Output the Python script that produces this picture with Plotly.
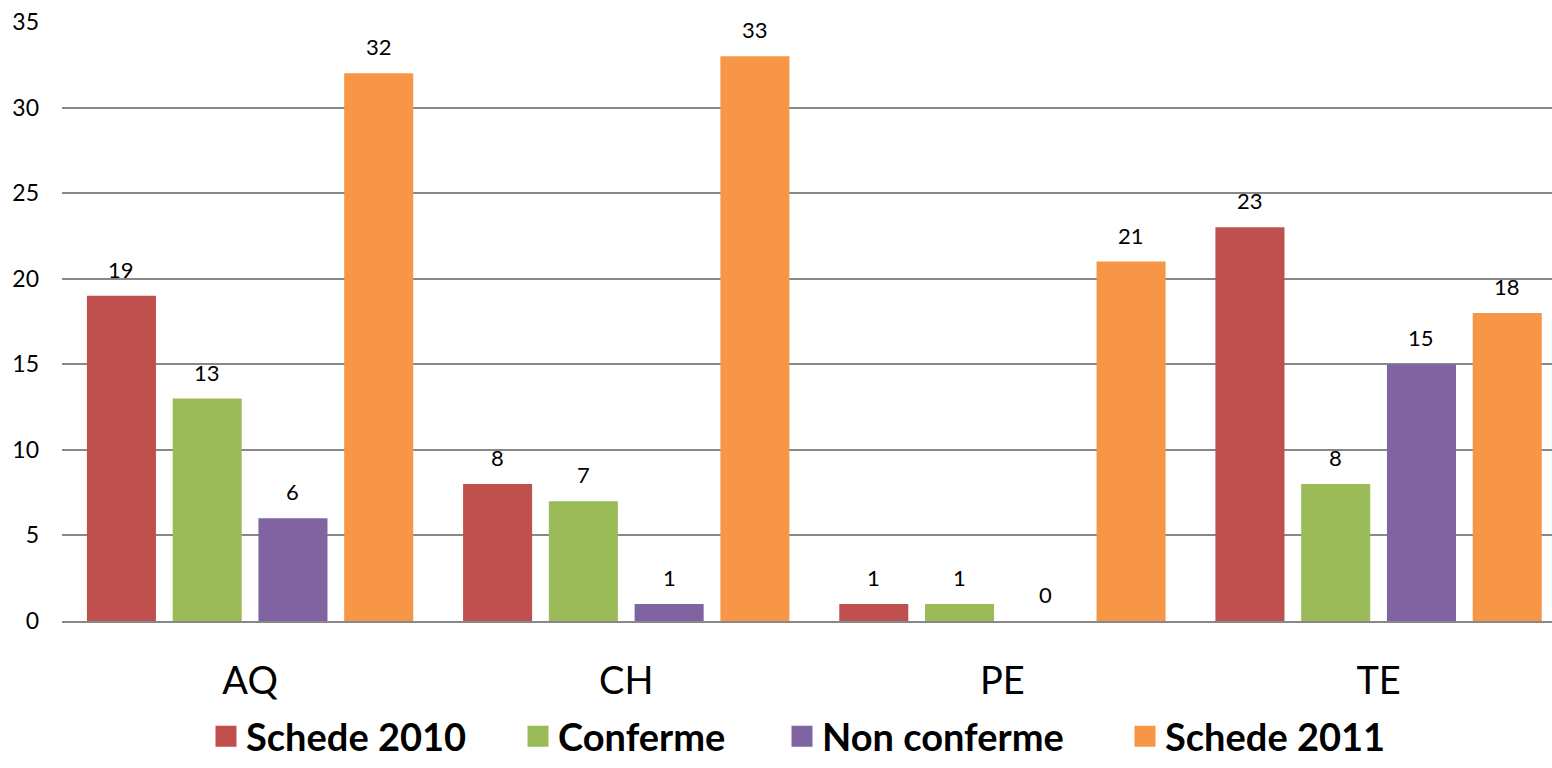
import plotly.graph_objects as go

categories = ["AQ", "CH", "PE", "TE"]
series_names = ["Schede 2010", "Conferme", "Non conferme", "Schede 2011"]
schede_2010 = [19, 8, 1, 23]
conferme = [13, 7, 1, 8]
non_conferme = [6, 1, 0, 15]
schede_2011 = [32, 33, 21, 18]
colors = ["#C0504D", "#9BBB59", "#8064A2", "#F79646"]
y_ticks = [0, 5, 10, 15, 20, 25, 30, 35]

FONT = "Lato, Open Sans, sans-serif"
W, H = 1552, 768
ML, MR, MT, MB = 62, 0, 22, 147
X_RANGE = [-0.5, 3.461]
BARGAP = 0.088
n_series = 4
cat_px = (W - ML - MR) / (X_RANGE[1] - X_RANGE[0])
slot_px = cat_px * (1 - BARGAP) / n_series

# legend symbol centres (px from left) for each series
legend_centres = [226, 538, 802, 1145]
legend_names = ["legend", "legend2", "legend3", "legend4"]

fig = go.Figure()
all_vals = [schede_2010, conferme, non_conferme, schede_2011]
for i, (name, vals, col) in enumerate(zip(series_names, all_vals, colors)):
    fig.add_trace(go.Bar(
        x=categories, y=vals, name=name, showlegend=False,
        marker=dict(color=col, line=dict(width=0)),
    ))
    for c, v in zip(categories, vals):
        fig.add_annotation(x=c, y=v, text=str(v), showarrow=False,
                           xref="x", yref="y", yanchor="bottom",
                           xshift=(i - (n_series - 1) / 2) * slot_px, yshift=11,
                           font=dict(size=22, color="#000000", family=FONT))
    fig.add_trace(go.Scatter(
        x=[None], y=[None], mode="markers", name=name, legend=legend_names[i],
        marker=dict(symbol="square", size=16, color=col, line=dict(width=5, color=col)),
    ))

legend_common = dict(orientation="h", xref="container", yref="container",
                     xanchor="left", yanchor="bottom", y=-0.012,
                     font=dict(size=38, family=FONT, weight="bold", color="#000000"),
                     itemwidth=30, itemsizing="trace", bgcolor="rgba(0,0,0,0)")
legends = {}
for ln, cx in zip(legend_names, legend_centres):
    legends[ln] = dict(legend_common, x=(cx - 20) / W)

fig.update_layout(
    width=W, height=H,
    margin=dict(l=ML, r=MR, t=MT, b=MB, autoexpand=False),
    paper_bgcolor="white", plot_bgcolor="white",
    barmode="group", bargap=BARGAP, bargroupgap=0.195,
    font=dict(family=FONT, color="#000000"),
    xaxis=dict(showgrid=False, tickfont=dict(size=38), ticklabelstandoff=25,
               range=X_RANGE,
               showline=True, linecolor="#888888", linewidth=2, ticks="",
               automargin=False),
    yaxis=dict(range=[0, 35], tickvals=y_ticks, showgrid=True, gridcolor="#888888",
               gridwidth=1.5, zeroline=False, tickfont=dict(size=23),
               ticklabelstandoff=22, showline=False, ticks="", automargin=False),
    **legends,
)
fig.write_html("out.html", config={"displayModeBar": False},
               post_script="document.body.style.margin='0px';")
